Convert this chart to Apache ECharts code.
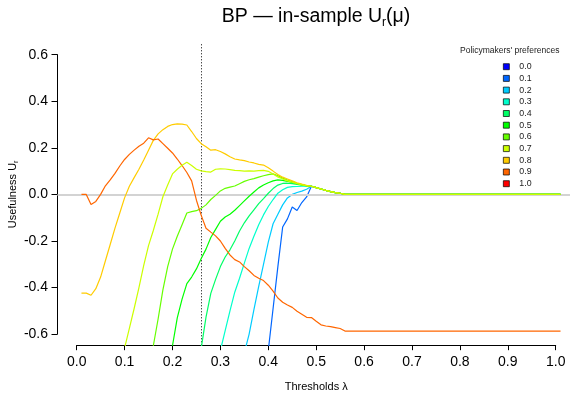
<!DOCTYPE html>
<html><head><meta charset="utf-8">
<script src="https://cdn.jsdelivr.net/npm/echarts@6/dist/echarts.min.js"></script>
<style>html,body{margin:0;padding:0;background:#fff}#c{width:570px;height:401px}</style>
</head><body><div id="c"></div>
<script>
// ---------- data ----------
const preferences = ['0.0','0.1','0.2','0.3','0.4','0.5','0.6','0.7','0.8','0.9','1.0'];
const prefColors = ['#0000FF','#0066FF','#00CCFF','#00FFCC','#00FF66','#00FF00','#66FF00','#CCFF00','#FFCC00','#FF6600','#FF0000'];
const xTicks = [0,0.1,0.2,0.3,0.4,0.5,0.6,0.7,0.8,0.9,1.0];
const yTicks = [-0.6,-0.4,-0.2,0,0.2,0.4,0.6];
const cutoff = 0.262;

// shared converged part (all preferences 0.1–0.8 coincide here)
const convergedTail = [[0.49,0.035],[0.50,0.029],[0.51,0.023],[0.52,0.017],[0.53,0.012],[0.54,0.008],[0.55,0.005],[0.56,0.0],[1.01,0.0]];

const u00 = [];
const u01 = [[0.40,-0.67],[0.41,-0.49],[0.42,-0.31],[0.43,-0.14],[0.44,-0.105],[0.45,-0.054],[0.46,-0.069],[0.47,-0.035],[0.48,-0.011]];
const u02 = [[0.35,-0.68],[0.36,-0.6],[0.37,-0.495],[0.38,-0.395],[0.39,-0.3],[0.40,-0.205],[0.41,-0.126],[0.42,-0.085],[0.43,-0.045],[0.44,-0.015],[0.45,0.0],[0.46,0.008],[0.47,0.014],[0.48,0.022]];
const u03 = [[0.30,-0.67],[0.31,-0.585],[0.32,-0.5],[0.33,-0.42],[0.34,-0.36],[0.35,-0.295],[0.36,-0.232],[0.37,-0.18],[0.38,-0.13],[0.39,-0.088],[0.40,-0.052],[0.41,-0.022],[0.42,0.005],[0.43,0.02],[0.44,0.03],[0.45,0.033],[0.46,0.034],[0.47,0.035],[0.48,0.036]];
const u04 = [[0.26,-0.66],[0.27,-0.527],[0.28,-0.425],[0.29,-0.365],[0.30,-0.31],[0.31,-0.269],[0.32,-0.238],[0.33,-0.2],[0.34,-0.157],[0.35,-0.122],[0.36,-0.092],[0.37,-0.066],[0.38,-0.04],[0.39,-0.018],[0.40,0.005],[0.41,0.025],[0.42,0.04],[0.43,0.047],[0.44,0.048],[0.45,0.046],[0.46,0.043],[0.47,0.04],[0.48,0.037]];
const u05 = [[0.20,-0.65],[0.21,-0.53],[0.22,-0.45],[0.23,-0.383],[0.24,-0.355],[0.25,-0.32],[0.26,-0.275],[0.27,-0.235],[0.28,-0.185],[0.29,-0.15],[0.30,-0.115],[0.31,-0.097],[0.32,-0.085],[0.33,-0.068],[0.34,-0.048],[0.35,-0.028],[0.36,-0.008],[0.37,0.01],[0.38,0.028],[0.39,0.04],[0.40,0.05],[0.41,0.058],[0.42,0.062],[0.43,0.06],[0.44,0.056],[0.45,0.051],[0.46,0.046],[0.47,0.041],[0.48,0.037]];
const u06 = [[0.16,-0.65],[0.17,-0.535],[0.18,-0.41],[0.19,-0.31],[0.20,-0.235],[0.21,-0.18],[0.22,-0.13],[0.23,-0.08],[0.24,-0.074],[0.25,-0.07],[0.26,-0.06],[0.27,-0.045],[0.28,-0.022],[0.29,-0.004],[0.30,0.015],[0.31,0.026],[0.32,0.031],[0.33,0.036],[0.34,0.046],[0.35,0.056],[0.36,0.063],[0.37,0.068],[0.38,0.074],[0.39,0.08],[0.40,0.085],[0.41,0.088],[0.42,0.08],[0.43,0.07],[0.44,0.062],[0.45,0.055],[0.46,0.048],[0.47,0.042],[0.48,0.037]];
const u07 = [[0.10,-0.66],[0.11,-0.575],[0.12,-0.49],[0.13,-0.4],[0.14,-0.305],[0.15,-0.22],[0.16,-0.155],[0.17,-0.085],[0.18,-0.01],[0.19,0.04],[0.20,0.088],[0.21,0.108],[0.22,0.125],[0.23,0.138],[0.24,0.124],[0.25,0.108],[0.26,0.101],[0.27,0.098],[0.28,0.096],[0.29,0.108],[0.30,0.11],[0.31,0.109],[0.32,0.106],[0.33,0.103],[0.34,0.102],[0.35,0.1],[0.36,0.101],[0.37,0.1],[0.38,0.102],[0.39,0.103],[0.40,0.099],[0.41,0.088],[0.42,0.075],[0.43,0.066],[0.44,0.058],[0.45,0.052],[0.46,0.046],[0.47,0.041],[0.48,0.037]];
const u08 = [[0.01,-0.424],[0.02,-0.424],[0.03,-0.433],[0.04,-0.405],[0.05,-0.355],[0.06,-0.285],[0.07,-0.215],[0.08,-0.145],[0.09,-0.08],[0.10,-0.015],[0.11,0.035],[0.12,0.072],[0.13,0.108],[0.14,0.148],[0.15,0.19],[0.16,0.232],[0.17,0.26],[0.18,0.278],[0.19,0.292],[0.20,0.3],[0.21,0.303],[0.22,0.302],[0.23,0.298],[0.24,0.27],[0.25,0.24],[0.26,0.218],[0.27,0.205],[0.28,0.19],[0.29,0.192],[0.30,0.184],[0.31,0.174],[0.32,0.162],[0.33,0.152],[0.34,0.148],[0.35,0.145],[0.36,0.139],[0.37,0.135],[0.38,0.129],[0.39,0.126],[0.40,0.114],[0.41,0.1],[0.42,0.085],[0.43,0.074],[0.44,0.066],[0.45,0.058],[0.46,0.05],[0.47,0.044],[0.48,0.039]];
const u09 = [[0.01,0.0],[0.02,0.0],[0.03,-0.043],[0.04,-0.03],[0.05,0.0],[0.06,0.037],[0.07,0.062],[0.08,0.09],[0.09,0.122],[0.10,0.15],[0.11,0.172],[0.12,0.19],[0.13,0.207],[0.14,0.22],[0.15,0.243],[0.16,0.234],[0.17,0.238],[0.18,0.218],[0.19,0.198],[0.20,0.178],[0.21,0.152],[0.22,0.124],[0.23,0.094],[0.24,0.058],[0.25,-0.025],[0.26,-0.09],[0.27,-0.145],[0.28,-0.162],[0.29,-0.178],[0.30,-0.2],[0.31,-0.232],[0.32,-0.26],[0.33,-0.28],[0.34,-0.29],[0.35,-0.31],[0.36,-0.328],[0.37,-0.348],[0.38,-0.36],[0.39,-0.37],[0.40,-0.39],[0.41,-0.415],[0.42,-0.445],[0.43,-0.463],[0.44,-0.475],[0.45,-0.485],[0.46,-0.502],[0.47,-0.515],[0.48,-0.528],[0.49,-0.529],[0.50,-0.545],[0.51,-0.56],[0.52,-0.565],[0.53,-0.568],[0.54,-0.572],[0.55,-0.576],[0.56,-0.587],[1.01,-0.587]];
const u10 = [];

const seriesValues = {
  '0.0': u00, '0.1': u01.concat(convergedTail), '0.2': u02.concat(convergedTail),
  '0.3': u03.concat(convergedTail), '0.4': u04.concat(convergedTail), '0.5': u05.concat(convergedTail),
  '0.6': u06.concat(convergedTail), '0.7': u07.concat(convergedTail), '0.8': u08.concat(convergedTail),
  '0.9': u09, '1.0': u10
};
// drawing order (0.7 ends up on top along the converged zero line)
const drawOrder = ['0.0','0.1','0.2','0.3','0.4','0.5','0.6','0.8','0.9','1.0','0.7'];

// ---------- chart ----------
const FONT = 'Liberation Sans, Arial, Helvetica, sans-serif';
const chart = echarts.init(document.getElementById('c'), null, {renderer:'canvas'});

const series = [{
  name: '__zero', type: 'line', xAxisIndex: 0, yAxisIndex: 0, data: [], z: 1,
  markLine: { silent: true, symbol: ['none','none'], label: {show:false}, animation:false,
    lineStyle: {color:'#d3d3d3', width:2, type:'solid'}, data: [{yAxis: 0}] }
}];
drawOrder.forEach((p, k) => {
  series.push({
    name: p, type: 'line', xAxisIndex: 0, yAxisIndex: 0, z: 2 + k,
    data: seriesValues[p], showSymbol: false, symbol: 'none', clip: true,
    color: prefColors[preferences.indexOf(p)],
    lineStyle: {width: 1.2, color: prefColors[preferences.indexOf(p)]},
    emphasis: {disabled: true}
  });
});
series.push({
  name: '__cut', type: 'line', xAxisIndex: 0, yAxisIndex: 0, data: [], z: 30,
  markLine: { silent: true, symbol: ['none','none'], label: {show:false}, animation:false,
    lineStyle: {color:'#000', width:1, type:[1,2]}, data: [{xAxis: cutoff}] }
});

chart.setOption({
  animation: false,
  backgroundColor: '#fff',
  textStyle: {fontFamily: FONT},
  title: [{
    text: '{t|BP — in-sample U}{s|r}{t|(μ)}',
    left: 316, top: 5, textAlign: 'center', padding: 0,
    textStyle: { fontWeight: 'normal', rich: {
      t: {fontSize: 19.5, fontFamily: FONT, fontWeight: 'normal', color: '#000', lineHeight: 24},
      s: {fontSize: 12, fontFamily: FONT, fontWeight: 'normal', color: '#000', lineHeight: 12, verticalAlign: 'bottom'}
    }}
  },{
    text: "Policymakers' preferences", left: 460, top: 46, padding: 0,
    textStyle: {fontSize: 8.5, fontWeight: 'normal', color: '#222', fontFamily: FONT}
  }],
  legend: {
    data: preferences, orient: 'vertical', left: 503, top: 61.7, padding: 0,
    itemWidth: 6, itemHeight: 6, itemGap: 1.7, icon: 'rect', selectedMode: false,
    itemStyle: {borderColor: '#000', borderWidth: 0.7},
    textStyle: {fontSize: 8.8, color: '#222', lineHeight: 10, padding: [0,0,0,5], fontFamily: FONT}
  },
  grid: [
    {left: 57.5, top: 43.5, width: 517.4, height: 301.8, outerBoundsMode: 'none', containLabel: false},
    {left: 76.7, top: 54.7, width: 479, height: 279.3, outerBoundsMode: 'none', containLabel: false}
  ],
  xAxis: [
    {gridIndex: 0, type: 'value', min: -0.04, max: 1.04, show: false},
    {gridIndex: 1, type: 'value', min: xTicks[0], max: xTicks[xTicks.length-1], interval: 0.1,
     position: 'bottom', offset: 11.2,
     axisLine: {show: true, onZero: false, lineStyle: {color: '#000', width: 1}},
     axisTick: {show: true, length: 5, lineStyle: {color: '#000'}},
     splitLine: {show: false},
     axisLabel: {color: '#000', fontSize: 14, margin: 10, fontFamily: FONT, formatter: v => v.toFixed(1)},
     name: 'Thresholds λ', nameLocation: 'middle', nameGap: 36, nameMoveOverlap: false,
     nameTextStyle: {fontSize: 11, color: '#000', fontFamily: FONT}}
  ],
  yAxis: [
    {gridIndex: 0, type: 'value', min: -0.648, max: 0.648, show: false},
    {gridIndex: 1, type: 'value', min: yTicks[0], max: yTicks[yTicks.length-1], interval: 0.2,
     position: 'left', offset: 19.2,
     axisLine: {show: true, onZero: false, lineStyle: {color: '#000', width: 1}},
     axisTick: {show: true, length: 6, lineStyle: {color: '#000'}},
     splitLine: {show: false},
     axisLabel: {color: '#000', fontSize: 14, margin: 9.5, fontFamily: FONT, formatter: v => v.toFixed(1)},
     name: '{a|Usefulness U}{b|r}', nameLocation: 'middle', nameGap: 38, nameRotate: 90, nameMoveOverlap: false,
     nameTextStyle: {rich: {
       a: {fontSize: 11, color: '#000', fontFamily: FONT, lineHeight: 13},
       b: {fontSize: 7.5, color: '#000', fontFamily: FONT, lineHeight: 8, verticalAlign: 'bottom'}
     }}}
  ],
  series: series
});
</script></body></html>
